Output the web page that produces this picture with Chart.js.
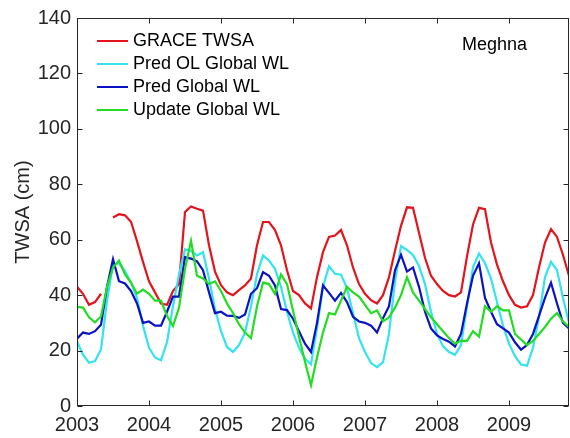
<!DOCTYPE html>
<html>
<head>
<meta charset="utf-8">
<script src="https://cdn.jsdelivr.net/npm/chart.js@4.4.0/dist/chart.umd.min.js"></script>
<style>
  html, body { margin: 0; padding: 0; background: #fff; }
</style>
</head>
<body>
<canvas id="twsaChart" width="570" height="438"></canvas>
<script>
// Monthly series, Jan 2003 .. Nov 2009 (one value per month, null = no data)
const startYear = 2003;
const yearTicks = [2003, 2004, 2005, 2006, 2007, 2008, 2009];
const yTicks = [0, 20, 40, 60, 80, 100, 120, 140];
const basinName = 'Meghna';

const graceTwsa = [
  43, 40.5, 36.5, 37.5, 40.5, null, 68, 69.2, 68.8, 66.5, 59.5, 52,
  45, 41, 37, 36.5, 41.5, 44, 70, 72, 71.2, 70.5, 58, 48.5,
  43.6, 41, 40, 41.8, 43.5, 46, 58, 66.4, 66.4, 63.5, 58, 49,
  41.5, 40, 37, 35.2, 46.5, 55.5, 61, 61.5, 63.5, 58, 50, 44,
  40.5, 38.2, 37, 40, 46.5, 56, 65, 71.7, 71.5, 62.5, 53.5, 47,
  44, 41.5, 40, 39.5, 41, 54, 65.5, 71.5, 71, 59, 51, 45,
  40, 36.5, 35.5, 36, 40, 50, 59, 63.8, 61, 54.5, 47
];
const predOlGlobal = [
  23.3, 18.5, 15.6, 16.2, 20.4, 38, 51, 51.5, 48.7, 44.5, 39, 29,
  21, 17.5, 16.5, 23, 36, 47.5, 56.5, 56, 54.3, 55.5, 46, 35,
  27, 21.3, 19.5, 22, 26.5, 36, 47.5, 54.3, 52.5, 49.5, 43, 34,
  26.5, 21, 17, 15, 28, 43, 50.5, 47.7, 47.4, 42.5, 33.5, 24.5,
  19.5, 15.5, 14, 15.8, 26, 45, 57.7, 56.3, 54.5, 50.5, 44, 34,
  26, 21.5, 19.5, 18.5, 22, 36, 50, 55, 51.5, 46, 37.5, 29,
  22.5, 18, 15, 14.5, 21, 32, 46.5, 52, 49, 39, 30
];
const predGlobal = [
  24.3, 26.5, 26, 27, 29.3, 43, 53, 45, 44.2, 41.5, 37, 30,
  30.5, 29, 29, 34, 39.5, 39.5, 53.7, 53.2, 52.2, 49, 41, 33.5,
  34, 32.6, 32.5, 31.8, 33, 40.5, 42.5, 48.3, 47, 43.5, 35, 34.6,
  31.5, 27, 22.5, 19.5, 30, 43.5, 40.8, 38, 40.8, 37.5, 32.2, 30.5,
  30, 29, 26.5, 31.7, 36, 49, 54.5, 48.5, 50, 43, 34, 28,
  25.5, 24.2, 23.2, 21.5, 26, 37, 47, 51.5, 39, 34, 29.5, 28,
  26.5, 23, 20.3, 22, 26, 32.5, 39, 44.5, 37, 30, 28
];
const updateGlobal = [
  35.8, 35.5, 32, 30.2, 32.3, 43, 50, 52.5, 47.5, 44.5, 40.5, 42,
  40.5, 38, 38, 32.5, 28.8, 35.5, 49.5, 59.6, 47, 46, 44, 45,
  41.5, 37, 33.5, 29.5, 26.5, 24.5, 36, 44.5, 44, 40.5, 47.5, 44,
  34.5, 25, 16, 7.5, 17.5, 26.5, 33.5, 33, 38, 43, 41, 39.5,
  36.5, 33.5, 34.5, 30.5, 32, 35.5, 40, 46.5, 41, 38, 35, 32,
  29.5, 27, 24.5, 22.5, 23.6, 23.5, 27, 25, 36, 34, 36, 34.5,
  34.5, 26, 24, 22, 23.5, 26, 28.5, 31.5, 33.5, 30.5, 28.5
];

const axisColor = '#262626';
const fontFamily = '"Liberation Sans", Arial, sans-serif';

// decimal-year x positions for each monthly value
function toPoints(values) {
  return values.map((v, i) => ({ x: startYear + i / 12, y: v }));
}

// MATLAB-like box with inward ticks, legend and basin label
const matlabFrame = {
  id: 'matlabFrame',
  afterDatasetsDraw(chart) {
    const { ctx, chartArea: a, scales } = chart;
    const x = scales.x, y = scales.y;
    ctx.save();
    ctx.strokeStyle = axisColor;
    ctx.lineWidth = 1;
    const L = Math.round(a.left) + 0.5, R = Math.round(a.right) - 0.5;
    const T = Math.round(a.top) + 0.5, B = Math.round(a.bottom) - 0.5;
    ctx.strokeRect(L, T, R - L, B - T);
    const tl = 5;
    ctx.beginPath();
    yearTicks.forEach(v => {
      const px = Math.round(x.getPixelForValue(v)) + 0.5;
      ctx.moveTo(px, B); ctx.lineTo(px, B - tl);
      ctx.moveTo(px, T); ctx.lineTo(px, T + tl);
    });
    yTicks.forEach(v => {
      const py = Math.round(y.getPixelForValue(v)) + 0.5;
      ctx.moveTo(L, py); ctx.lineTo(L + tl, py);
      ctx.moveTo(R, py); ctx.lineTo(R - tl, py);
    });
    ctx.stroke();

    // legend
    ctx.font = '18px ' + fontFamily;
    ctx.textBaseline = 'middle';
    ctx.textAlign = 'left';
    chart.data.datasets.forEach((ds, i) => {
      const ry = 41 + i * 23;
      ctx.strokeStyle = ds.borderColor;
      ctx.lineWidth = 2;
      ctx.beginPath();
      ctx.moveTo(97, ry); ctx.lineTo(128, ry);
      ctx.stroke();
      ctx.fillStyle = '#000';
      ctx.fillText(ds.label, 133, ry);
    });

    ctx.fillStyle = '#000';
    ctx.fillText(basinName, 462, 45);
    ctx.restore();
  }
};

const ctx = document.getElementById('twsaChart').getContext('2d');
const twsaChart = new Chart(ctx, {
  type: 'line',
  data: {
    datasets: [
      { label: 'GRACE TWSA', data: toPoints(graceTwsa), borderColor: '#e3141b', order: 3 },
      { label: 'Pred OL Global WL', data: toPoints(predOlGlobal), borderColor: '#33e3ee', order: 2 },
      { label: 'Pred Global WL', data: toPoints(predGlobal), borderColor: '#0a12c4', order: 1 },
      { label: 'Update Global WL', data: toPoints(updateGlobal), borderColor: '#22dd22', order: 0 }
    ]
  },
  options: {
    responsive: false,
    animation: false,
    devicePixelRatio: 1,
    spanGaps: false,
    elements: {
      point: { radius: 0 },
      line: { borderWidth: 2.2, tension: 0, fill: false }
    },
    layout: { padding: { top: 15, right: 1, left: 0, bottom: 0 } },
    plugins: { legend: { display: false }, tooltip: { enabled: false } },
    scales: {
      x: {
        type: 'linear',
        min: 2003,
        max: 2009 + 10 / 12,
        afterBuildTicks: s => { s.ticks = yearTicks.map(v => ({ value: v })); },
        afterFit: s => { s.height = 32; },
        ticks: {
          callback: v => String(v),
          font: { family: fontFamily, size: 20 },
          color: axisColor,
          padding: 7,
          maxRotation: 0
        },
        grid: { drawOnChartArea: false, drawTicks: false },
        border: { display: false }
      },
      y: {
        min: 0,
        max: 140,
        afterBuildTicks: s => { s.ticks = yTicks.map(v => ({ value: v })); },
        afterFit: s => { s.width = 77; },
        ticks: {
          font: { family: fontFamily, size: 20 },
          color: axisColor,
          padding: 6
        },
        title: {
          display: true,
          text: 'TWSA (cm)',
          font: { family: fontFamily, size: 20 },
          color: axisColor,
          padding: { top: 11, bottom: 0 }
        },
        grid: { drawOnChartArea: false, drawTicks: false },
        border: { display: false }
      }
    }
  },
  plugins: [matlabFrame]
});
</script>
</body>
</html>
